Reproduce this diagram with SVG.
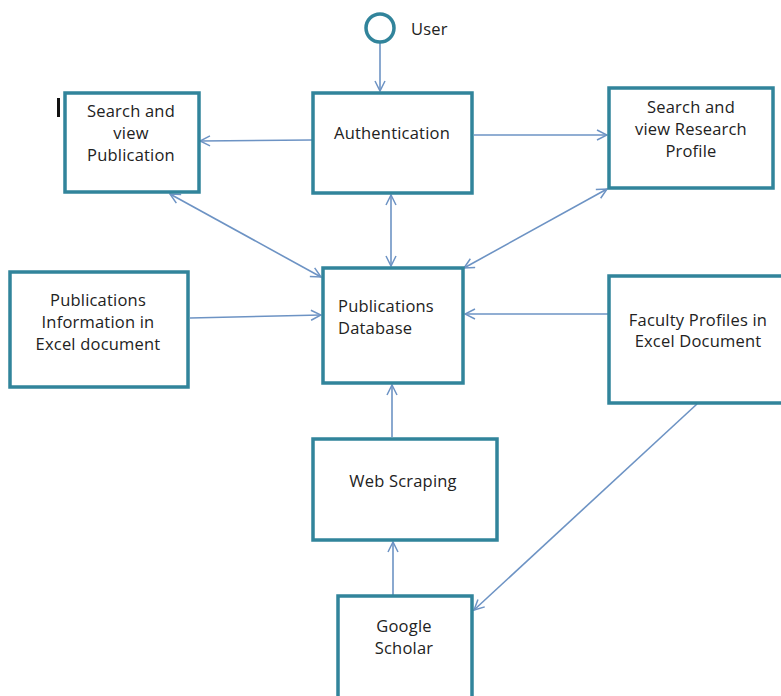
<svg xmlns="http://www.w3.org/2000/svg" width="781" height="696" viewBox="0 0 781 696">
<defs>
<marker id="ah" viewBox="0 0 12 12" refX="11" refY="6" markerWidth="12" markerHeight="12" markerUnits="userSpaceOnUse" orient="auto-start-reverse">
<path d="M1,1 L11,6 L1,11" fill="none" stroke="#6d93c4" stroke-width="1.5"/>
</marker>
<style>
.box{fill:#fff;stroke:#31849b;stroke-width:3.5}
.t{font-family:"Open Sans","Liberation Sans",sans-serif;font-size:16.5px;fill:#222;text-anchor:middle;letter-spacing:0.2px}
.c{fill:none;stroke:#6d93c4;stroke-width:1.6}
</style>
</defs>
<rect width="781" height="696" fill="#fff"/>
<g id="connectors">
<line class="c" x1="380" y1="43" x2="380" y2="91" marker-end="url(#ah)"/>
<line class="c" x1="312" y1="140" x2="200" y2="141" marker-end="url(#ah)"/>
<line class="c" x1="474" y1="135" x2="607" y2="135" marker-end="url(#ah)"/>
<line class="c" x1="170" y1="194" x2="321" y2="277" marker-start="url(#ah)" marker-end="url(#ah)"/>
<line class="c" x1="391" y1="195" x2="391" y2="266" marker-start="url(#ah)" marker-end="url(#ah)"/>
<line class="c" x1="607" y1="189" x2="464" y2="268" marker-start="url(#ah)" marker-end="url(#ah)"/>
<line class="c" x1="190" y1="318" x2="321" y2="315" marker-end="url(#ah)"/>
<line class="c" x1="608" y1="314" x2="465" y2="314" marker-end="url(#ah)"/>
<line class="c" x1="392" y1="437" x2="392" y2="385" marker-end="url(#ah)"/>
<line class="c" x1="393" y1="595" x2="393" y2="542" marker-end="url(#ah)"/>
<line class="c" x1="697" y1="404" x2="474" y2="610" marker-end="url(#ah)"/>
</g>
<g id="user">
<circle cx="380" cy="28" r="14" fill="#fff" stroke="#31849b" stroke-width="3.5"/>
<text class="t" x="411" y="35" style="text-anchor:start">User</text>
</g>
<rect x="57" y="98" width="3" height="19" fill="#111"/>
<g id="search-publication">
<rect class="box" x="65" y="93" width="134" height="99"/>
<text class="t" x="131" y="117">Search and</text>
<text class="t" x="131" y="139">view</text>
<text class="t" x="131" y="161">Publication</text>
</g>
<g id="authentication">
<rect class="box" x="313" y="93" width="159" height="100"/>
<text class="t" x="392" y="139">Authentication</text>
</g>
<g id="search-research">
<rect class="box" x="609" y="88" width="164" height="100"/>
<text class="t" x="691" y="113">Search and</text>
<text class="t" x="691" y="135">view Research</text>
<text class="t" x="691" y="157">Profile</text>
</g>
<g id="excel-publications">
<rect class="box" x="10" y="272" width="178" height="115"/>
<text class="t" x="98" y="306">Publications</text>
<text class="t" x="98" y="328">Information in</text>
<text class="t" x="98" y="350">Excel document</text>
</g>
<g id="publications-db">
<rect class="box" x="323" y="268" width="140" height="115"/>
<text class="t" x="338" y="312" style="text-anchor:start">Publications</text>
<text class="t" x="338" y="334" style="text-anchor:start">Database</text>
</g>
<g id="faculty-profiles">
<rect class="box" x="609" y="276" width="176" height="127"/>
<text class="t" x="698" y="326">Faculty Profiles in</text>
<text class="t" x="698" y="347">Excel Document</text>
</g>
<g id="web-scraping">
<rect class="box" x="313" y="439" width="184" height="101"/>
<text class="t" x="403" y="487">Web Scraping</text>
</g>
<g id="google-scholar">
<rect class="box" x="338" y="596" width="134" height="104"/>
<text class="t" x="404" y="632">Google</text>
<text class="t" x="404" y="654">Scholar</text>
</g>
</svg>
